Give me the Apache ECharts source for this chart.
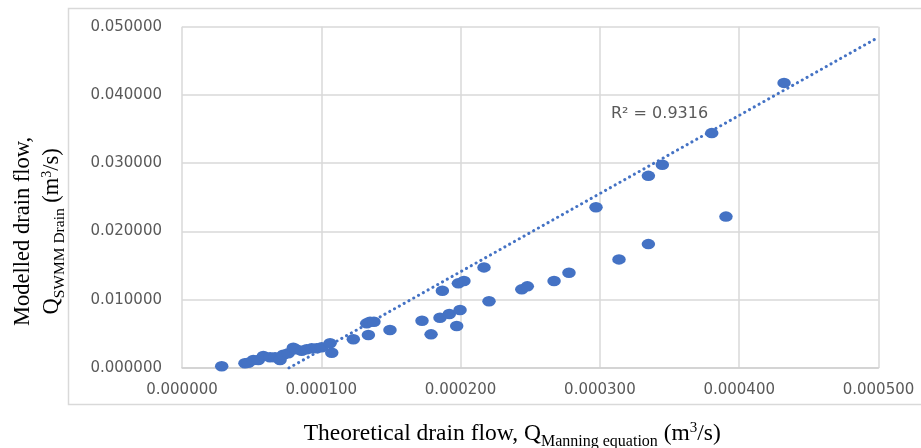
<!DOCTYPE html>
<html>
<head>
<meta charset="utf-8">
<script src="https://cdn.jsdelivr.net/npm/echarts@6/dist/echarts.min.js"></script>
<style>
html,body{margin:0;padding:0;background:#fff;}
#chart{width:921px;height:448px;}
</style>
</head>
<body>
<div id="chart"></div>
<script>
// Theoretical drain flow (x) and modelled drain flow (y), m3/s
var theoretical = [0.0000285,0.0000452,0.0000476,0.0000512,0.0000548,0.0000584,0.0000632,0.0000668,0.0000704,0.0000727,
  0.0000763,0.0000799,0.0000818,0.0000859,0.0000895,0.0000931,0.0000967,0.0001003,0.0001063,0.0001075,
  0.000123,0.0001338,0.0001326,0.000135,0.0001378,0.0001493,0.0001723,0.0001788,0.0001852,0.0001869,
  0.0001919,0.0001972,0.0001996,0.0001984,0.0002024,0.0002168,0.0002204,0.0002439,0.0002479,0.0002671,
  0.0002778,0.0002972,0.0003137,0.0003348,0.0003348,0.0003448,0.0003803,0.0003905,0.0004322];
var modelled = [0.00025,0.00069,0.00078,0.00117,0.00117,0.00176,0.00157,0.00157,0.00117,0.00195,
  0.00215,0.00297,0.00274,0.00253,0.00274,0.00288,0.00288,0.00303,0.00362,0.00224,
  0.0042,0.00483,0.00654,0.00678,0.00678,0.00556,0.00693,0.00493,0.00736,0.01132,
  0.00791,0.00615,0.00849,0.0124,0.01274,0.01474,0.00977,0.01152,0.01196,0.01274,
  0.01395,0.02354,0.01591,0.01815,0.02815,0.02977,0.03441,0.02218,0.04177];
// Linear trendline (as drawn, clipped at y = 0 and forecast to 0.0005)
var trendSlope = 114.5;
var trendIntercept = -0.00879;
var trendX = [0.0000768, 0.0005];
var rSquaredText = 'R² = 0.9316';
var xTicks = [0, 0.0001, 0.0002, 0.0003, 0.0004, 0.0005];
var yTicks = [0, 0.01, 0.02, 0.03, 0.04, 0.05];

var points = theoretical.map(function (x, i) { return [x, modelled[i]]; });
var trend = trendX.map(function (x) { return [x, trendSlope * x + trendIntercept]; });

var blue = '#4472C4';
var grey = '#d9d9d9';
var labelFont = { color: '#595959', fontFamily: 'DejaVu Sans', fontSize: 15 };

var chart = echarts.init(document.getElementById('chart'), null, { renderer: 'canvas' });
chart.setOption({
  animation: false,
  backgroundColor: '#ffffff',
  grid: { left: 182, right: 42.5, top: 26.7, bottom: 80, containLabel: false, outerBoundsMode: 'none' },
  xAxis: {
    type: 'value', min: xTicks[0], max: xTicks[xTicks.length - 1], interval: 0.0001,
    axisLine: { show: true, lineStyle: { color: '#d0d0d0', width: 1.5 } },
    axisTick: { show: false },
    splitLine: { show: true, lineStyle: { color: grey, width: 1.5 } },
    axisLabel: Object.assign({ margin: 15, formatter: function (v) { return v.toFixed(6); } }, labelFont),
    name: '{t|Theoretical drain flow, Q}{s|Manning equation}{t| (m}{p|3}{t|/s)}',
    nameLocation: 'middle', nameGap: 51,
    nameTextStyle: {
      padding: [0, 36, 0, 0],
      rich: {
        t: { fontFamily: 'Liberation Serif', fontSize: 23.5, color: '#000', lineHeight: 27, verticalAlign: 'bottom' },
        s: { fontFamily: 'Liberation Serif', fontSize: 16, color: '#000', lineHeight: 27, verticalAlign: 'bottom', padding: [0, 0, -4, 0] },
        p: { fontFamily: 'Liberation Serif', fontSize: 15, color: '#000', lineHeight: 27, verticalAlign: 'bottom', padding: [0, 0, 10, 0] }
      }
    }
  },
  yAxis: {
    type: 'value', min: yTicks[0], max: yTicks[yTicks.length - 1], interval: 0.01,
    axisLine: { show: false },
    axisTick: { show: false },
    splitLine: { show: true, lineStyle: { color: grey, width: 1.5 } },
    axisLabel: Object.assign({ margin: 20, formatter: function (v) { return v.toFixed(6); } }, labelFont),
    name: '{t|Modelled drain flow,}\n{t|Q}{s|SWMM Drain}{t| (m}{p|3}{t|/s)}',
    nameLocation: 'middle', nameGap: 118,
    nameTextStyle: {
      align: 'center',
      padding: [0, 68, 0, 0],
      rich: {
        t: { fontFamily: 'Liberation Serif', fontSize: 22.5, color: '#000', lineHeight: 29, verticalAlign: 'bottom' },
        s: { fontFamily: 'Liberation Serif', fontSize: 15.5, color: '#000', lineHeight: 29, verticalAlign: 'bottom', padding: [0, 0, -4, 0] },
        p: { fontFamily: 'Liberation Serif', fontSize: 14, color: '#000', lineHeight: 29, verticalAlign: 'bottom', padding: [0, 0, 10, 0] }
      }
    }
  },
  series: [
    {
      type: 'line', data: trend, symbol: 'none', silent: true, z: 1,
      lineStyle: { color: blue, width: 3, type: [0.1, 5.4], cap: 'round' }
    },
    {
      type: 'scatter', data: points, symbol: 'circle', symbolSize: [13.5, 10.5], z: 3,
      itemStyle: { color: blue, opacity: 1 }
    }
  ],
  graphic: [
    { type: 'rect', silent: true, z: -10,
      shape: { x: 68.5, y: 8.5, width: 900, height: 396 },
      style: { fill: 'none', stroke: grey, lineWidth: 1.5 } },
    { type: 'text', left: 611, top: 106, z: 10,
      style: { text: rSquaredText, fill: '#595959', font: '16px "DejaVu Sans"' } }
  ]
});
</script>
</body>
</html>
